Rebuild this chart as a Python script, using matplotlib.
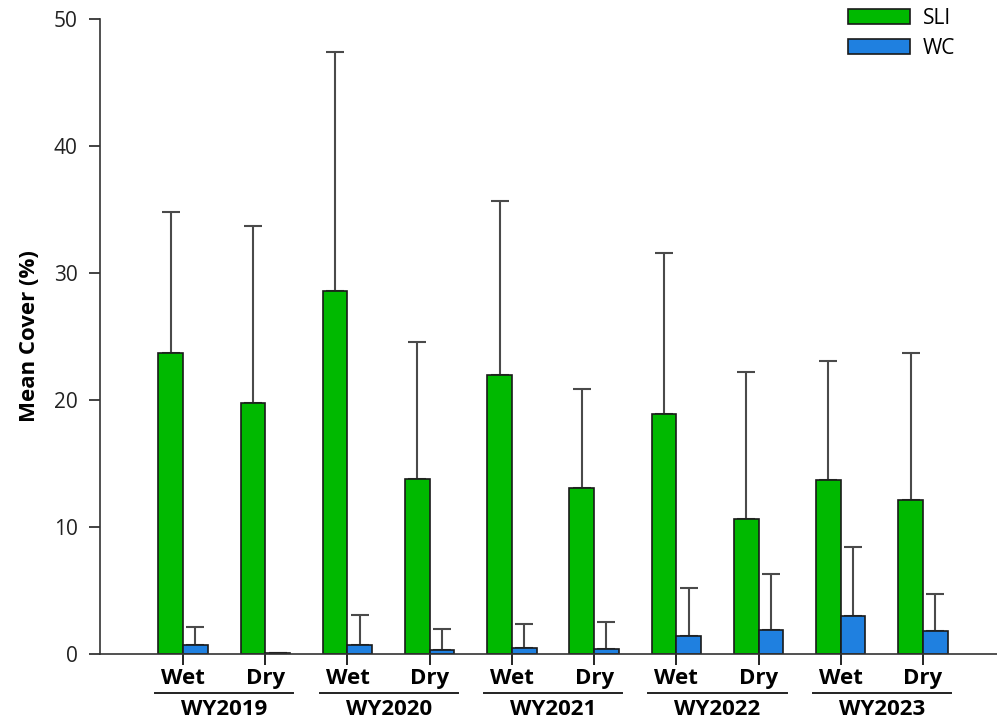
import matplotlib
matplotlib.use("Agg")
import matplotlib.pyplot as plt
import numpy as np

plt.rcParams["font.family"] = ["Open Sans", "DejaVu Sans"]

years = ["WY2019", "WY2020", "WY2021", "WY2022", "WY2023"]
seasons = ["Wet", "Dry"]

# средние и верхняя граница ошибки, порядок: Wet19, Dry19, Wet20, ...
sli_mean = [23.7, 19.8, 28.6, 13.8, 22.0, 13.1, 18.9, 10.6, 13.7, 12.1]
sli_upper = [34.8, 33.7, 47.4, 24.6, 35.7, 20.9, 31.6, 22.2, 23.1, 23.7]
wc_mean = [0.7, 0.05, 0.7, 0.35, 0.5, 0.4, 1.4, 1.9, 3.0, 1.8]
wc_upper = [2.1, 0.05, 3.1, 2.0, 2.4, 2.5, 5.2, 6.3, 8.4, 4.7]

GREEN = "#00b900"
BLUE = "#1f80e0"
ECOL = "#4a4a4a"

x = np.arange(len(sli_mean))
w = 0.3

fig = plt.figure(figsize=(9.97, 7.26), dpi=100)
ax = fig.add_axes([0.1003, 0.0992, 0.8997, 0.8746])

sli_err = np.array(sli_upper) - np.array(sli_mean)
wc_err = np.array(wc_upper) - np.array(wc_mean)

ax.bar(x - w / 2, sli_mean, w, color=GREEN, edgecolor="#1a1a1a", lw=1.2,
       label="SLI", zorder=2)
ax.bar(x + w / 2, wc_mean, w, color=BLUE, edgecolor="#1a1a1a", lw=1.2,
       label="WC", zorder=2)
ax.errorbar(x - w / 2, sli_mean, yerr=[np.zeros_like(sli_err), sli_err],
            fmt="none", ecolor=ECOL, elinewidth=1.5, capsize=6.5, capthick=1.5, zorder=1)
ax.errorbar(x + w / 2, wc_mean, yerr=[np.zeros_like(wc_err), wc_err],
            fmt="none", ecolor=ECOL, elinewidth=1.5, capsize=6.5, capthick=1.5, zorder=1)

ax.set_xlim(-1.01, 9.9)
ax.set_ylim(0, 50)
ax.set_yticks(range(0, 51, 10))
ax.tick_params(axis="y", labelsize=15, length=8, width=1.2, colors="#222222", pad=8)
ax.set_xticks(x)
ax.set_xticklabels(seasons * len(years), fontsize=16, fontweight="bold")
ax.tick_params(axis="x", length=8, width=1.2, pad=2)
for s in ["top", "right"]:
    ax.spines[s].set_visible(False)
for s in ["left", "bottom"]:
    ax.spines[s].set_linewidth(1.2)
    ax.spines[s].set_color("#333333")

ax.set_ylabel("Mean Cover (%)", fontsize=16, fontweight="bold", labelpad=10)

# подписи лет с подчёркиванием
trans = ax.get_xaxis_transform()
for i, yr in enumerate(years):
    a, b = 2 * i, 2 * i + 1
    ax.plot([a - 0.34, b + 0.34], [-0.061, -0.061], color="#222222", lw=1.4,
            transform=trans, clip_on=False)
    ax.text((a + b) / 2, -0.088, yr, transform=trans, ha="center", va="center",
            fontsize=16, fontweight="bold")

leg = ax.legend(loc="upper right", bbox_to_anchor=(0.974, 1.047), frameon=False,
                fontsize=15, handlelength=3.0, handleheight=0.72,
                labelspacing=0.42, handletextpad=0.6)

fig.savefig("out.png", dpi=100)
